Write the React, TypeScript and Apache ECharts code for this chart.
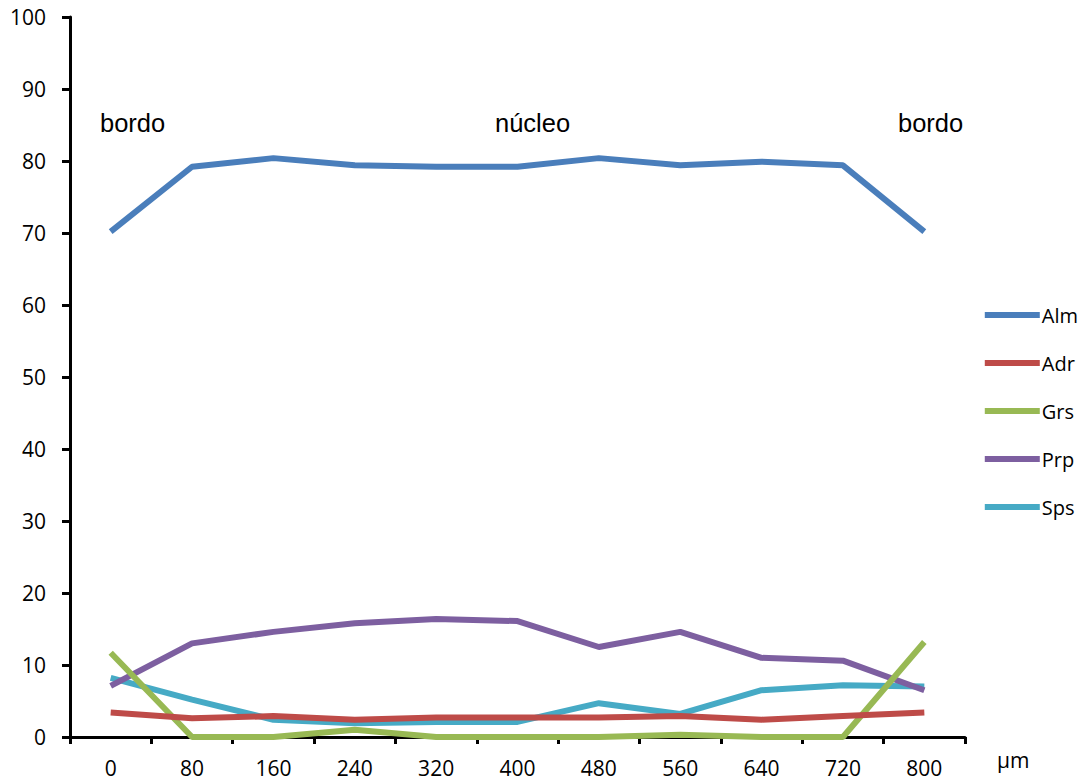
import React, { useEffect, useRef } from "react";
import * as echarts from "echarts";

const categories = ["0", "80", "160", "240", "320", "400", "480", "560", "640", "720", "800"];
const alm = [70.2, 79.2, 80.4, 79.4, 79.2, 79.2, 80.4, 79.4, 79.9, 79.4, 70.2];
const adr = [3.4, 2.6, 2.9, 2.4, 2.7, 2.7, 2.7, 2.9, 2.4, 2.9, 3.4];
const grs = [11.7, 0, 0, 1.0, 0, 0, 0, 0.3, 0, 0, 13.2];
const prp = [7.1, 13.0, 14.6, 15.8, 16.4, 16.1, 12.5, 14.6, 11.0, 10.6, 6.5];
const sps = [8.2, 5.2, 2.4, 1.9, 2.1, 2.1, 4.7, 3.2, 6.5, 7.2, 7.0];
const seriesNames = ["Alm", "Adr", "Grs", "Prp", "Sps"];
const colors = ["#4A7EBB", "#BE4B48", "#98B954", "#7D5FA0", "#46AAC5"];
const yTicks = { min: 0, max: 100, interval: 10 };

export default function App() {
  const ref = useRef<HTMLDivElement>(null);
  useEffect(() => {
    if (!ref.current) return;
    const chart = echarts.init(ref.current, undefined, { renderer: "svg" });
    const data = [alm, adr, grs, prp, sps];
    const font = "Open Sans";
    chart.setOption({
      animation: false,
      backgroundColor: "#ffffff",
      grid: { left: 70, right: 120, top: 17, bottom: 45, containLabel: false },
      xAxis: {
        type: "category",
        data: categories,
        boundaryGap: true,
        axisLine: { lineStyle: { color: "#000", width: 3 } },
        axisTick: { show: true, alignWithLabel: false, length: 7, lineStyle: { color: "#000", width: 3 } },
        axisLabel: { color: "#000", fontSize: 21, fontFamily: font, margin: 20 },
        name: "µm",
        nameLocation: "end",
        nameGap: 14,
        nameTextStyle: { color: "#000", fontSize: 21, fontFamily: font, verticalAlign: "top", padding: [12, 0, 0, 18] },
      },
      yAxis: {
        type: "value",
        min: yTicks.min,
        max: yTicks.max,
        interval: yTicks.interval,
        splitLine: { show: false },
        axisLine: { show: true, lineStyle: { color: "#000", width: 3 } },
        axisTick: { show: true, length: 8, lineStyle: { color: "#000", width: 3 } },
        axisLabel: { color: "#000", fontSize: 21, fontFamily: font, margin: 24 },
      },
      legend: {
        orient: "vertical",
        right: 2,
        top: 300,
        itemWidth: 55,
        itemHeight: 6,
        itemGap: 28,
        icon: "rect",
        textStyle: { color: "#000", fontSize: 20, fontFamily: font, padding: [0, 0, 0, -3] },
        data: seriesNames,
      },
      graphic: [
        { type: "text", left: 100, top: 110, style: { text: "bordo", fontSize: 25.5, fontFamily: "Liberation Sans", fill: "#000" } },
        { type: "text", left: 495, top: 110, style: { text: "núcleo", fontSize: 25.5, fontFamily: "Liberation Sans", fill: "#000" } },
        { type: "text", left: 898, top: 110, style: { text: "bordo", fontSize: 25.5, fontFamily: "Liberation Sans", fill: "#000" } },
      ],
      series: seriesNames.map((n, i) => ({
        name: n,
        type: "line",
        data: data[i],
        showSymbol: false,
        symbol: "none",
        color: colors[i],
        lineStyle: { color: colors[i], width: 6 },
        z: 5 - i,
      })),
    });
    return () => chart.dispose();
  }, []);
  return <div ref={ref} style={{ width: 1085, height: 782, position: "absolute", left: 0, top: 0 }} />;
}
